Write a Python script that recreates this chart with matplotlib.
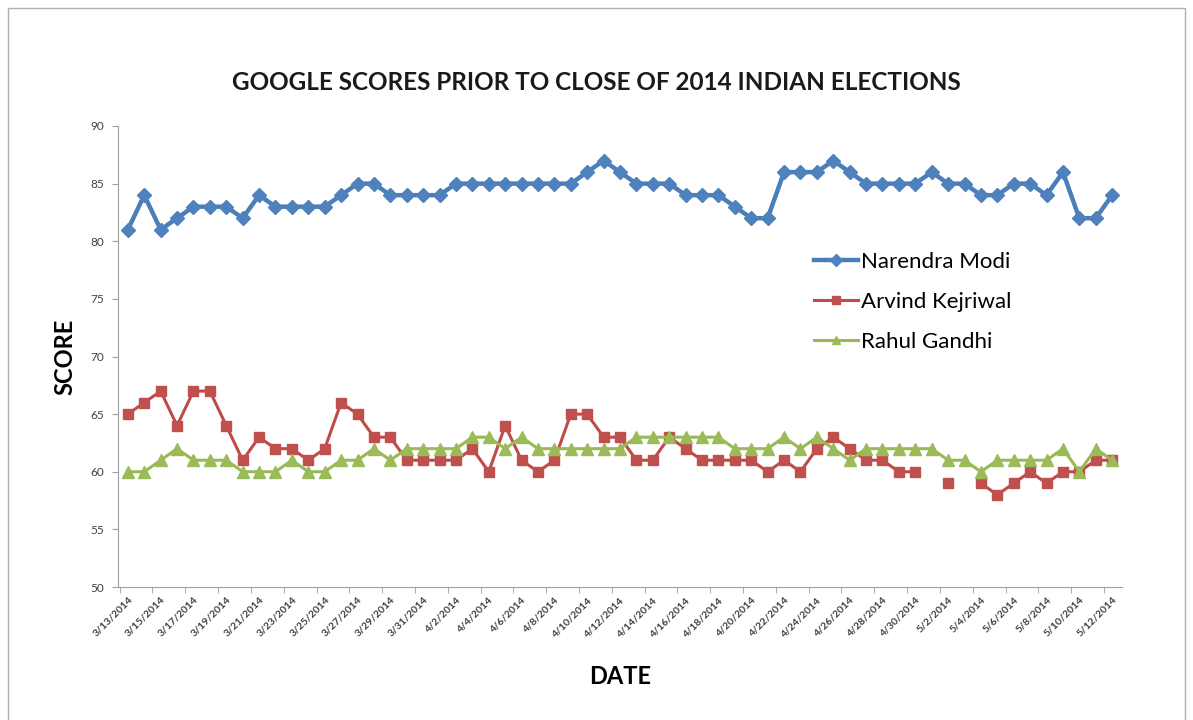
import numpy as np
import pandas as pd
import matplotlib
matplotlib.use("Agg")
import matplotlib.pyplot as plt
from matplotlib.patches import Rectangle

plt.rcParams['font.family'] = ['Lato', 'DejaVu Sans']

dates = pd.date_range("2014-03-13", "2014-05-12", freq="D")
date_labels = [f"{d.month}/{d.day}/{d.year}" for d in dates]

modi = [81, 84, 81, 82, 83, 83, 83, 82, 84, 83, 83, 83, 83, 84, 85, 85, 84, 84, 84, 84,
        85, 85, 85, 85, 85, 85, 85, 85, 86, 87, 86, 85, 85, 85, 84, 84, 84, 83, 82, 82,
        86, 86, 86, 87, 86, 85, 85, 85, 85, 86, 85, 85, 84, 84, 85, 85, 84, 86, 82, 82, 84]
kejriwal = [65, 66, 67, 64, 67, 67, 64, 61, 63, 62, 62, 61, 62, 66, 65, 63, 63, 61, 61, 61,
            61, 62, 60, 64, 61, 60, 61, 65, 65, 63, 63, 61, 61, 63, 62, 61, 61, 61, 61,
            60, 61, 60, 62, 63, 62, 61, 61, 60, 60,
            np.nan, 59, np.nan, 59, 58, 59, 60, 59, 60, 60, 61, 61]
gandhi = [60, 60, 61, 62, 61, 61, 61, 60, 60, 60, 61, 60, 60, 61, 61, 62, 61, 62, 62, 62,
          62, 63, 63, 62, 63, 62, 62, 62, 62, 62, 62, 63, 63, 63, 63, 63, 63, 62, 62,
          62, 63, 62, 63, 62, 61, 62, 62, 62, 62, 62, 61, 61, 60, 61, 61, 61, 61, 62, 60, 62, 61]

x = np.arange(len(dates))

fig = plt.figure(figsize=(11.93, 7.2), dpi=100)
ax = fig.add_axes([118 / 1193, 1 - 587 / 720, (1122 - 118) / 1193, (587 - 126) / 720])

ax.plot(x, modi, color='#4A7EBB', lw=3.2, marker='D', ms=7.5, mfc='#4F81BD', mec='#4F81BD',
        label='Narendra Modi')
ax.plot(x, kejriwal, color='#BE4B48', lw=2.2, marker='s', ms=7.5, mfc='#C0504D', mec='#C0504D',
        label='Arvind Kejriwal')
ax.plot(x, gandhi, color='#98B954', lw=2.2, marker='^', ms=8, mfc='#9BBB59', mec='#9BBB59',
        label='Rahul Gandhi')

ax.set_ylim(50, 90)
ax.set_yticks(range(50, 91, 5))
ax.set_xlim(-0.6, 60.6)
ax.set_xticks(x[::2])
ax.set_xticklabels(date_labels[::2], rotation=45, ha='right', rotation_mode='anchor',
                   fontsize=7.5, fontweight='bold', color='#404040')
ax.set_xticks(np.arange(-0.5, 61, 2), minor=True)
ax.tick_params(axis='x', which='major', length=0, pad=6)
ax.tick_params(axis='x', which='minor', length=4, color='#a0a0a0')
ax.tick_params(axis='y', length=4, color='#a0a0a0', labelsize=8.5, labelcolor='#404040', pad=6)

for side in ['top', 'right']:
    ax.spines[side].set_visible(False)
for side in ['left', 'bottom']:
    ax.spines[side].set_color('#a0a0a0')

ax.set_ylabel('SCORE', fontsize=17, fontweight='bold', labelpad=10)
ax.set_xlabel('DATE', fontsize=17, fontweight='bold', labelpad=19)
fig.text(0.5, 1 - 82 / 720, 'GOOGLE SCORES PRIOR TO CLOSE OF 2014 INDIAN ELECTIONS',
         ha='center', va='center', fontsize=17.5, fontweight='bold', color='#1a1a1a')

ax.legend(loc='upper left', bbox_to_anchor=(0.673, 0.77), frameon=False, fontsize=16,
          handlelength=2.0, handletextpad=0.15, labelspacing=0.9, markerscale=0.8)

fig.patches.append(Rectangle((8 / 1193, -0.1), 1177 / 1193, 1.1 - 8 / 720,
                             transform=fig.transFigure, fill=False, ec='#b0b0b0', lw=1))

fig.savefig('out.png', dpi=100)
